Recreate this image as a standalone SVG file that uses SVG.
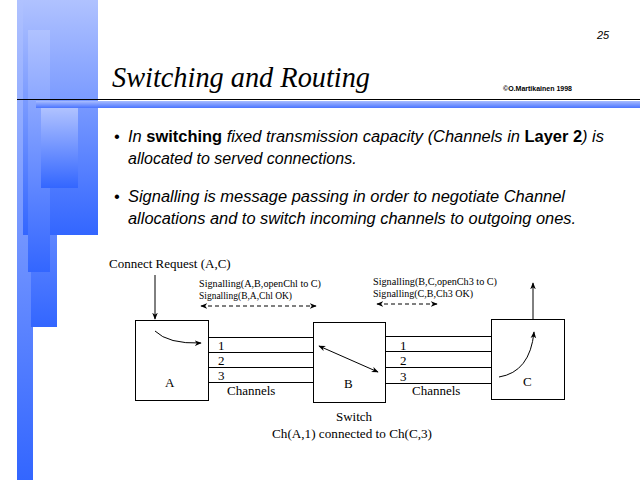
<svg xmlns="http://www.w3.org/2000/svg" width="640" height="480" viewBox="0 0 640 480">
<defs>
<linearGradient id="g1" x1="0" y1="0" x2="0" y2="1"><stop offset="0" stop-color="#b0c2ff"/><stop offset="1" stop-color="#3366ff"/></linearGradient>
<linearGradient id="g2" x1="0" y1="0" x2="0" y2="1"><stop offset="0" stop-color="#a8bcff"/><stop offset="1" stop-color="#4a74ff"/></linearGradient>
<marker id="ah" viewBox="0 0 10 10" refX="9" refY="5" markerWidth="7" markerHeight="7" orient="auto-start-reverse" markerUnits="userSpaceOnUse"><path d="M0,1 L10,5 L0,9 L3,5 z" fill="#000"/></marker>
</defs>
<style>
.t{font-family:"Liberation Serif","Times New Roman",serif;fill:#000}
.s{font-family:"Liberation Sans",Arial,sans-serif;fill:#000}
.ln{stroke:#000;stroke-width:1;fill:none}
.box{stroke:#000;stroke-width:1;fill:#fff}
</style>
<rect width="640" height="480" fill="#fff"/>
<g id="background">
<rect x="17" y="0" width="16" height="480" fill="url(#g1)"/>
<rect x="31" y="60" width="26" height="267" fill="url(#g1)"/>
<rect x="23" y="0" width="75" height="235" fill="url(#g1)"/>
<rect x="28" y="30" width="22" height="242" fill="url(#g1)"/>
<rect x="41" y="108" width="37" height="80" fill="url(#g1)"/>
<rect x="36" y="101" width="604" height="7" fill="url(#g2)"/>
<line x1="17" y1="99.5" x2="640" y2="99.5" stroke="#000" stroke-width="1"/>
</g>
<g id="header">
<text class="s" x="597" y="39" font-size="11" font-style="italic">25</text>
<text class="t" x="112" y="87" font-size="29" font-style="italic" textLength="258" lengthAdjust="spacingAndGlyphs">Switching and Routing</text>
<text class="s" x="503" y="91" font-size="7" font-weight="bold">©O.Martikainen 1998</text>
</g>
<g id="bullets" class="s" font-size="16" font-style="italic">
<text x="114" y="142">•</text>
<text x="128" y="142" textLength="476" lengthAdjust="spacingAndGlyphs">In <tspan font-weight="bold" font-style="normal">switching</tspan> fixed transmission capacity (Channels in <tspan font-weight="bold" font-style="normal">Layer 2</tspan>) is</text>
<text x="128" y="164">allocated to served connections.</text>
<text x="114" y="202">•</text>
<text x="128" y="202" textLength="437" lengthAdjust="spacingAndGlyphs">Signalling is message passing in order to negotiate Channel</text>
<text x="128" y="224" textLength="448" lengthAdjust="spacingAndGlyphs">allocations and to switch incoming channels to outgoing ones.</text>
</g>
<g id="connectors">
<line class="ln" x1="155" y1="275" x2="155" y2="319" marker-end="url(#ah)"/>
<line class="ln" x1="533" y1="319" x2="533" y2="283" marker-end="url(#ah)"/>
<line class="ln" x1="201" y1="306" x2="316" y2="306" stroke-dasharray="4,3" marker-start="url(#ah)" marker-end="url(#ah)"/>
<line class="ln" x1="377" y1="304" x2="437" y2="304" stroke-dasharray="4,3" marker-start="url(#ah)" marker-end="url(#ah)"/>
<line class="ln" x1="208" y1="337.5" x2="313" y2="337.5"/>
<line class="ln" x1="209" y1="352.5" x2="313" y2="352.5"/>
<line class="ln" x1="209" y1="367.5" x2="313" y2="367.5"/>
<line class="ln" x1="209" y1="382.5" x2="313" y2="382.5"/>
<line class="ln" x1="386" y1="336.5" x2="491" y2="336.5"/>
<line class="ln" x1="386" y1="351.5" x2="491" y2="351.5"/>
<line class="ln" x1="386" y1="367.5" x2="491" y2="367.5"/>
<line class="ln" x1="386" y1="383.5" x2="491" y2="383.5"/>
</g>
<g id="nodeA">
<rect class="box" x="135.5" y="320.5" width="73" height="80"/>
<path class="ln" d="M155,331 Q168,344 201,343" marker-end="url(#ah)"/>
<text class="t" x="165" y="387" font-size="13">A</text>
</g>
<g id="nodeB">
<rect class="box" x="313.5" y="322.5" width="72" height="80"/>
<line class="ln" x1="319" y1="346" x2="378" y2="372" marker-start="url(#ah)" marker-end="url(#ah)"/>
<text class="t" x="344" y="388" font-size="13">B</text>
</g>
<g id="nodeC">
<rect class="box" x="491.5" y="319.5" width="73" height="80"/>
<path class="ln" d="M499,377 Q530,372 534,332" marker-end="url(#ah)"/>
<text class="t" x="523" y="386" font-size="13">C</text>
</g>
<g id="labels" class="t">
<text x="109" y="268" font-size="13">Connect Request (A,C)</text>
<text x="199" y="287" font-size="11" textLength="122" lengthAdjust="spacingAndGlyphs">Signalling(A,B,openChl to C)</text>
<text x="199" y="299" font-size="11" textLength="93" lengthAdjust="spacingAndGlyphs">Signalling(B,A,Chl OK)</text>
<text x="373" y="285" font-size="11" textLength="124" lengthAdjust="spacingAndGlyphs">Signalling(B,C,openCh3 to C)</text>
<text x="373" y="297" font-size="11" textLength="100" lengthAdjust="spacingAndGlyphs">Signalling(C,B,Ch3 OK)</text>
<text x="218" y="350" font-size="13">1</text>
<text x="218" y="365" font-size="13">2</text>
<text x="218" y="380" font-size="13">3</text>
<text x="227" y="395" font-size="13">Channels</text>
<text x="400" y="350" font-size="13">1</text>
<text x="400" y="365" font-size="13">2</text>
<text x="400" y="381" font-size="13">3</text>
<text x="412" y="395" font-size="13">Channels</text>
<text x="336" y="421" font-size="13">Switch</text>
<text x="272" y="438" font-size="13" textLength="160" lengthAdjust="spacingAndGlyphs">Ch(A,1) connected to Ch(C,3)</text>
</g>
</svg>
